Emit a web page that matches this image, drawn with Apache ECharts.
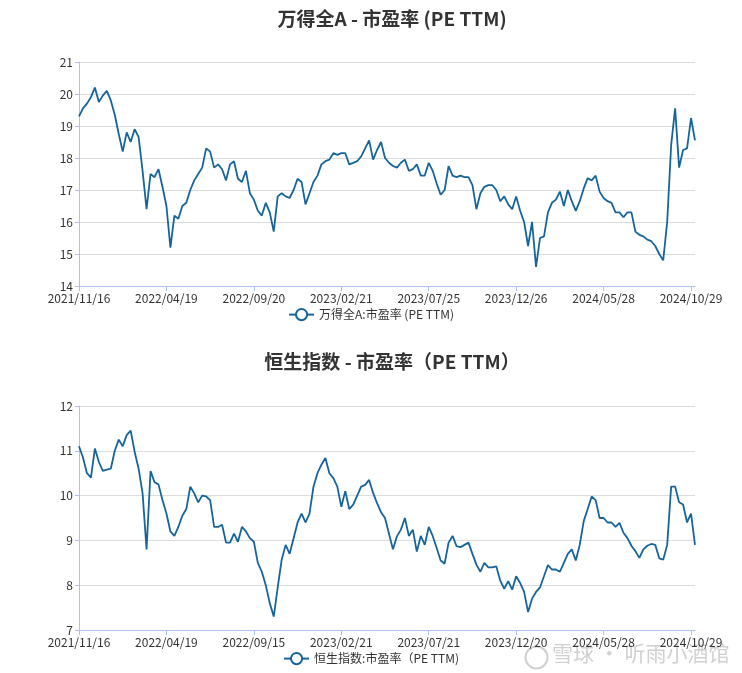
<!DOCTYPE html>
<html>
<head>
<meta charset="utf-8">
<title>市盈率 (PE TTM)</title>
<script src="https://cdn.jsdelivr.net/npm/echarts@6/dist/echarts.min.js"></script>
<style>
    html, body { margin: 0; padding: 0; background: #fff; }
    #chartMain { width: 742px; height: 673px; }
</style>
</head>
<body>
<div id="chartMain"></div>
<script>
// 横轴刻度文字（两个市场的交易日不同）
var aTickA = ['2021/11/16', '2022/04/19', '2022/09/20', '2023/02/21', '2023/07/25', '2023/12/26', '2024/05/28', '2024/10/29'];
var aTickHK = ['2021/11/16', '2022/04/19', '2022/09/15', '2023/02/21', '2023/07/21', '2023/12/20', '2024/05/28', '2024/10/29'];

// 万得全A 市盈率，按周取值
var aPeA = [
    19.3, 19.55, 19.7, 19.9, 20.2, 19.75, 19.95, 20.1, 19.8, 19.35, 18.75,
    18.2, 18.8, 18.5, 18.9, 18.65, 17.6, 16.4, 17.5, 17.4, 17.65,
    17.1, 16.5, 15.2, 16.2, 16.1, 16.5, 16.6, 17.0, 17.3, 17.5,
    17.7, 18.3, 18.2, 17.7, 17.8, 17.65, 17.3, 17.8, 17.9, 17.35,
    17.25, 17.6, 16.9, 16.7, 16.35, 16.2, 16.6, 16.3, 15.7, 16.8,
    16.9, 16.8, 16.75, 17.0, 17.35, 17.25, 16.55, 16.9, 17.25, 17.45,
    17.8, 17.9, 17.95, 18.15, 18.1, 18.15, 18.15, 17.8, 17.85, 17.9,
    18.05, 18.3, 18.55, 17.95, 18.25, 18.5, 18.0, 17.85, 17.75, 17.7,
    17.85, 17.95, 17.6, 17.65, 17.8, 17.45, 17.45, 17.85, 17.6, 17.2,
    16.85, 17.0, 17.75, 17.45, 17.4, 17.45, 17.4, 17.4, 17.15, 16.4,
    16.9, 17.1, 17.15, 17.15, 17.0, 16.65, 16.8, 16.55, 16.4, 16.8,
    16.35, 16.0, 15.25, 16.0, 14.6, 15.5, 15.55, 16.3, 16.6, 16.7,
    16.95, 16.5, 17.0, 16.65, 16.35, 16.65, 17.05, 17.37, 17.3, 17.45,
    16.95, 16.75, 16.65, 16.6, 16.3, 16.3, 16.15, 16.3, 16.3, 15.7,
    15.6, 15.55, 15.45, 15.4, 15.25, 15.0, 14.8, 16.0, 18.4, 19.55,
    17.7, 18.25, 18.3, 19.25, 18.55
];

// 恒生指数 市盈率，按周取值
var aPeHK = [
    11.1, 10.85, 10.5, 10.4, 11.05, 10.75, 10.55, 10.58, 10.6, 11.0, 11.25,
    11.1, 11.35, 11.45, 10.98, 10.6, 10.05, 8.8, 10.55, 10.3, 10.25,
    9.9, 9.6, 9.2, 9.1, 9.3, 9.55, 9.7, 10.2, 10.05, 9.85,
    10.0, 9.98, 9.9, 9.3, 9.3, 9.35, 8.95, 8.95, 9.15, 8.97,
    9.3, 9.2, 9.05, 8.97, 8.5, 8.3, 8.0, 7.6, 7.3, 7.95,
    8.57, 8.9, 8.7, 9.05, 9.4, 9.6, 9.4, 9.6, 10.2, 10.5,
    10.69, 10.84, 10.5, 10.39, 10.2, 9.75, 10.1, 9.7, 9.8, 10.0,
    10.2, 10.24, 10.35, 10.06, 9.83, 9.63, 9.5, 9.15, 8.8, 9.09,
    9.24, 9.5, 9.1, 9.24, 8.75, 9.1, 8.9, 9.3, 9.1, 8.83,
    8.55, 8.48, 8.95, 9.1, 8.87, 8.85, 8.9, 8.95, 8.7, 8.46,
    8.3, 8.5, 8.4, 8.4, 8.42, 8.1, 7.92, 8.09, 7.9, 8.2,
    8.05, 7.85, 7.4, 7.7, 7.85, 7.95, 8.2, 8.45, 8.35, 8.35,
    8.3, 8.5, 8.7, 8.8, 8.55, 8.9, 9.43, 9.7, 9.98, 9.9,
    9.5, 9.5, 9.4, 9.4, 9.3, 9.39, 9.17, 9.05, 8.88, 8.76,
    8.61, 8.8, 8.88, 8.92, 8.9, 8.6, 8.57, 8.9, 10.2, 10.2,
    9.85, 9.8, 9.4, 9.6, 8.9
];

// 每周一个日期作为类目
var aDates = [];
(function () {
    var nStart = Date.UTC(2021, 10, 16);
    for (var i = 0; i < aPeA.length; i++) {
        var d = new Date(nStart + i * 7 * 86400000);
        var cM = ('0' + (d.getUTCMonth() + 1)).slice(-2);
        var cD = ('0' + d.getUTCDate()).slice(-2);
        aDates.push(d.getUTCFullYear() + '/' + cM + '/' + cD);
    }
})();

var cFont = '"Noto Sans CJK SC", "Microsoft YaHei", sans-serif';
var cLine = '#15659b';
var cAxis = '#adc0ee';
var nStep = 22;

function makeXAxis(nGrid, aTick) {
    return {
        type: 'category',
        gridIndex: nGrid,
        boundaryGap: false,
        data: aDates,
        axisLine: { lineStyle: { color: cAxis } },
        axisTick: { interval: nStep - 1, lineStyle: { color: cAxis } },
        axisLabel: {
            interval: nStep - 1,
            color: '#333',
            fontSize: 12,
            fontFamily: cFont,
            margin: 6,
            formatter: function (value, index) {
                return aTick[Math.round(index / nStep)] || '';
            }
        },
        splitLine: { show: false }
    };
}

function makeYAxis(nGrid, nMin, nMax) {
    return {
        type: 'value',
        gridIndex: nGrid,
        min: nMin,
        max: nMax,
        interval: 1,
        axisLine: { show: true, lineStyle: { color: cAxis } },
        axisTick: { show: true, length: 4, lineStyle: { color: cAxis } },
        axisLabel: { color: '#333', fontSize: 12, fontFamily: cFont, margin: 6 },
        splitLine: { lineStyle: { color: '#dcdcdc' } }
    };
}

function makeSeries(cName, aData, nIdx) {
    return {
        name: cName,
        type: 'line',
        xAxisIndex: nIdx,
        yAxisIndex: nIdx,
        data: aData,
        symbol: 'emptyCircle',
        symbolSize: 8,
        showSymbol: false,
        lineStyle: { color: cLine, width: 1.8 },
        itemStyle: { color: cLine, borderWidth: 1 },
        animation: false
    };
}

var oChart = echarts.init(document.getElementById('chartMain'));

var oOption = {
    backgroundColor: '#fff',
    textStyle: { fontFamily: cFont },
    title: [
        {
            text: '万得全A - 市盈率 (PE TTM)',
            left: 387, top: 4, textAlign: 'center',
            textStyle: { fontSize: 19, fontWeight: 'bold', color: '#333', fontFamily: cFont }
        },
        {
            text: '恒生指数 - 市盈率（PE TTM）',
            left: 387, top: 347, textAlign: 'center',
            textStyle: { fontSize: 19, fontWeight: 'bold', color: '#333', fontFamily: cFont }
        }
    ],
    legend: [
        {
            data: ['万得全A:市盈率 (PE TTM)'],
            left: 'center', top: 303,
            itemWidth: 25, itemHeight: 14, itemGap: 10,
            textStyle: { fontSize: 12, color: '#333', fontFamily: cFont }
        },
        {
            data: ['恒生指数:市盈率（PE TTM)'],
            left: 'center', top: 647,
            itemWidth: 25, itemHeight: 14, itemGap: 10,
            textStyle: { fontSize: 12, color: '#333', fontFamily: cFont }
        }
    ],
    grid: [
        { left: 79, right: 47, top: 62, height: 224 },
        { left: 79, right: 47, top: 406, height: 224 }
    ],
    xAxis: [makeXAxis(0, aTickA), makeXAxis(1, aTickHK)],
    yAxis: [makeYAxis(0, 14, 21), makeYAxis(1, 7, 12)],
    series: [
        makeSeries('万得全A:市盈率 (PE TTM)', aPeA, 0),
        makeSeries('恒生指数:市盈率（PE TTM)', aPeHK, 1)
    ],
    // 右下角水印
    graphic: [
        {
            type: 'circle', left: 523, top: 644,
            shape: { r: 11 },
            style: { fill: 'none', stroke: 'rgba(150,150,150,0.45)', lineWidth: 2 },
            silent: true
        },
        {
            type: 'text', left: 552, top: 643,
            style: {
                text: '雪球 · 听雨小酒馆',
                fill: 'rgba(150,150,150,0.45)',
                font: '21px "Noto Sans CJK SC", sans-serif'
            },
            silent: true
        }
    ]
};

oChart.setOption(oOption, true);
</script>
</body>
</html>
